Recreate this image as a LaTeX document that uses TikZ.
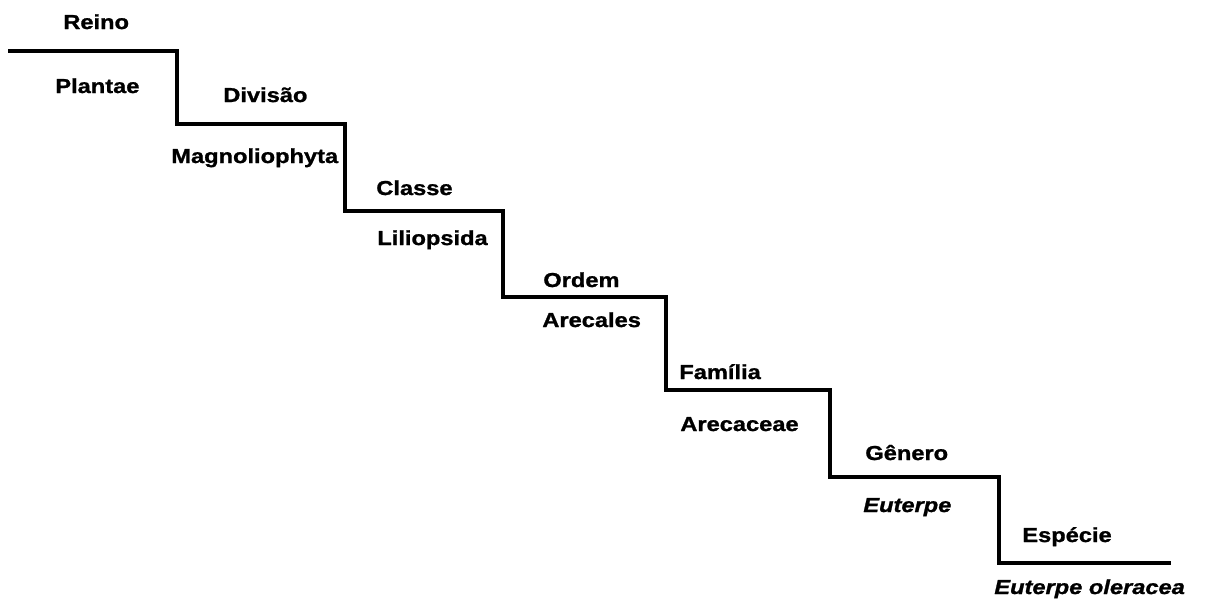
\documentclass[tikz,border=0pt]{standalone}
\usepackage{fontspec}
\setmainfont{Liberation Sans}[FakeStretch=1.17, BoldFeatures={FakeBold=1.2}, BoldItalicFeatures={FakeBold=1.2}]
\tikzstyle{nR}=[inner sep = 0pt, anchor=base west, font=\bfseries\fontsize{11.5}{13}\selectfont]
\tikzstyle{nI}=[inner sep = 0pt, anchor=base west, font=\bfseries\itshape\fontsize{11.5}{13}\selectfont]
\tikzstyle{eS}=[line width=2.3pt, line join=miter]

\begin{document}
\begin{tikzpicture}[x=0.02cm, y=-0.02cm]
                \useasboundingbox (0,0) rectangle (1230,599);
                % corners of the staircase
                \coordinate (c0) at (8,51);
                \coordinate (c1) at (177,124);
                \coordinate (c2) at (345,211);
                \coordinate (c3) at (503,297);
                \coordinate (c4) at (666,390);
                \coordinate (c5) at (830,477);
                \coordinate (c6) at (999,563);
                \coordinate (c7) at (1171,563);
                \draw[eS] (c0) -| (c1) -| (c2) -| (c3) -| (c4) -| (c5) -| (c6) -- (c7);
                % ranks above, taxa below
                \draw (63,29) node[nR] (reino) {Reino};
                \draw (55,93) node[nR] (plantae) {Plantae};
                \draw (223,102) node[nR] (divisao) {Divisão};
                \draw (171,163) node[nR] (magnolio) {Magnoliophyta};
                \draw (376,195) node[nR] (classe) {Classe};
                \draw (377,245) node[nR] (liliop) {Liliopsida};
                \draw (543,287) node[nR] (ordem) {Ordem};
                \draw (542,327) node[nR] (arecales) {Arecales};
                \draw (679,379) node[nR] (familia) {Família};
                \draw (680,431) node[nR] (arecaceae) {Arecaceae};
                \draw (865,460) node[nR] (genero) {Gênero};
                \draw (863,512) node[nI] (euterpe) {Euterpe};
                \draw (1022,542) node[nR] (especie) {Espécie};
                \draw (994,594) node[nI] (oleracea) {Euterpe oleracea};
                %\draw (0,0) node (d) {};
        \end{tikzpicture}
\end{document}
